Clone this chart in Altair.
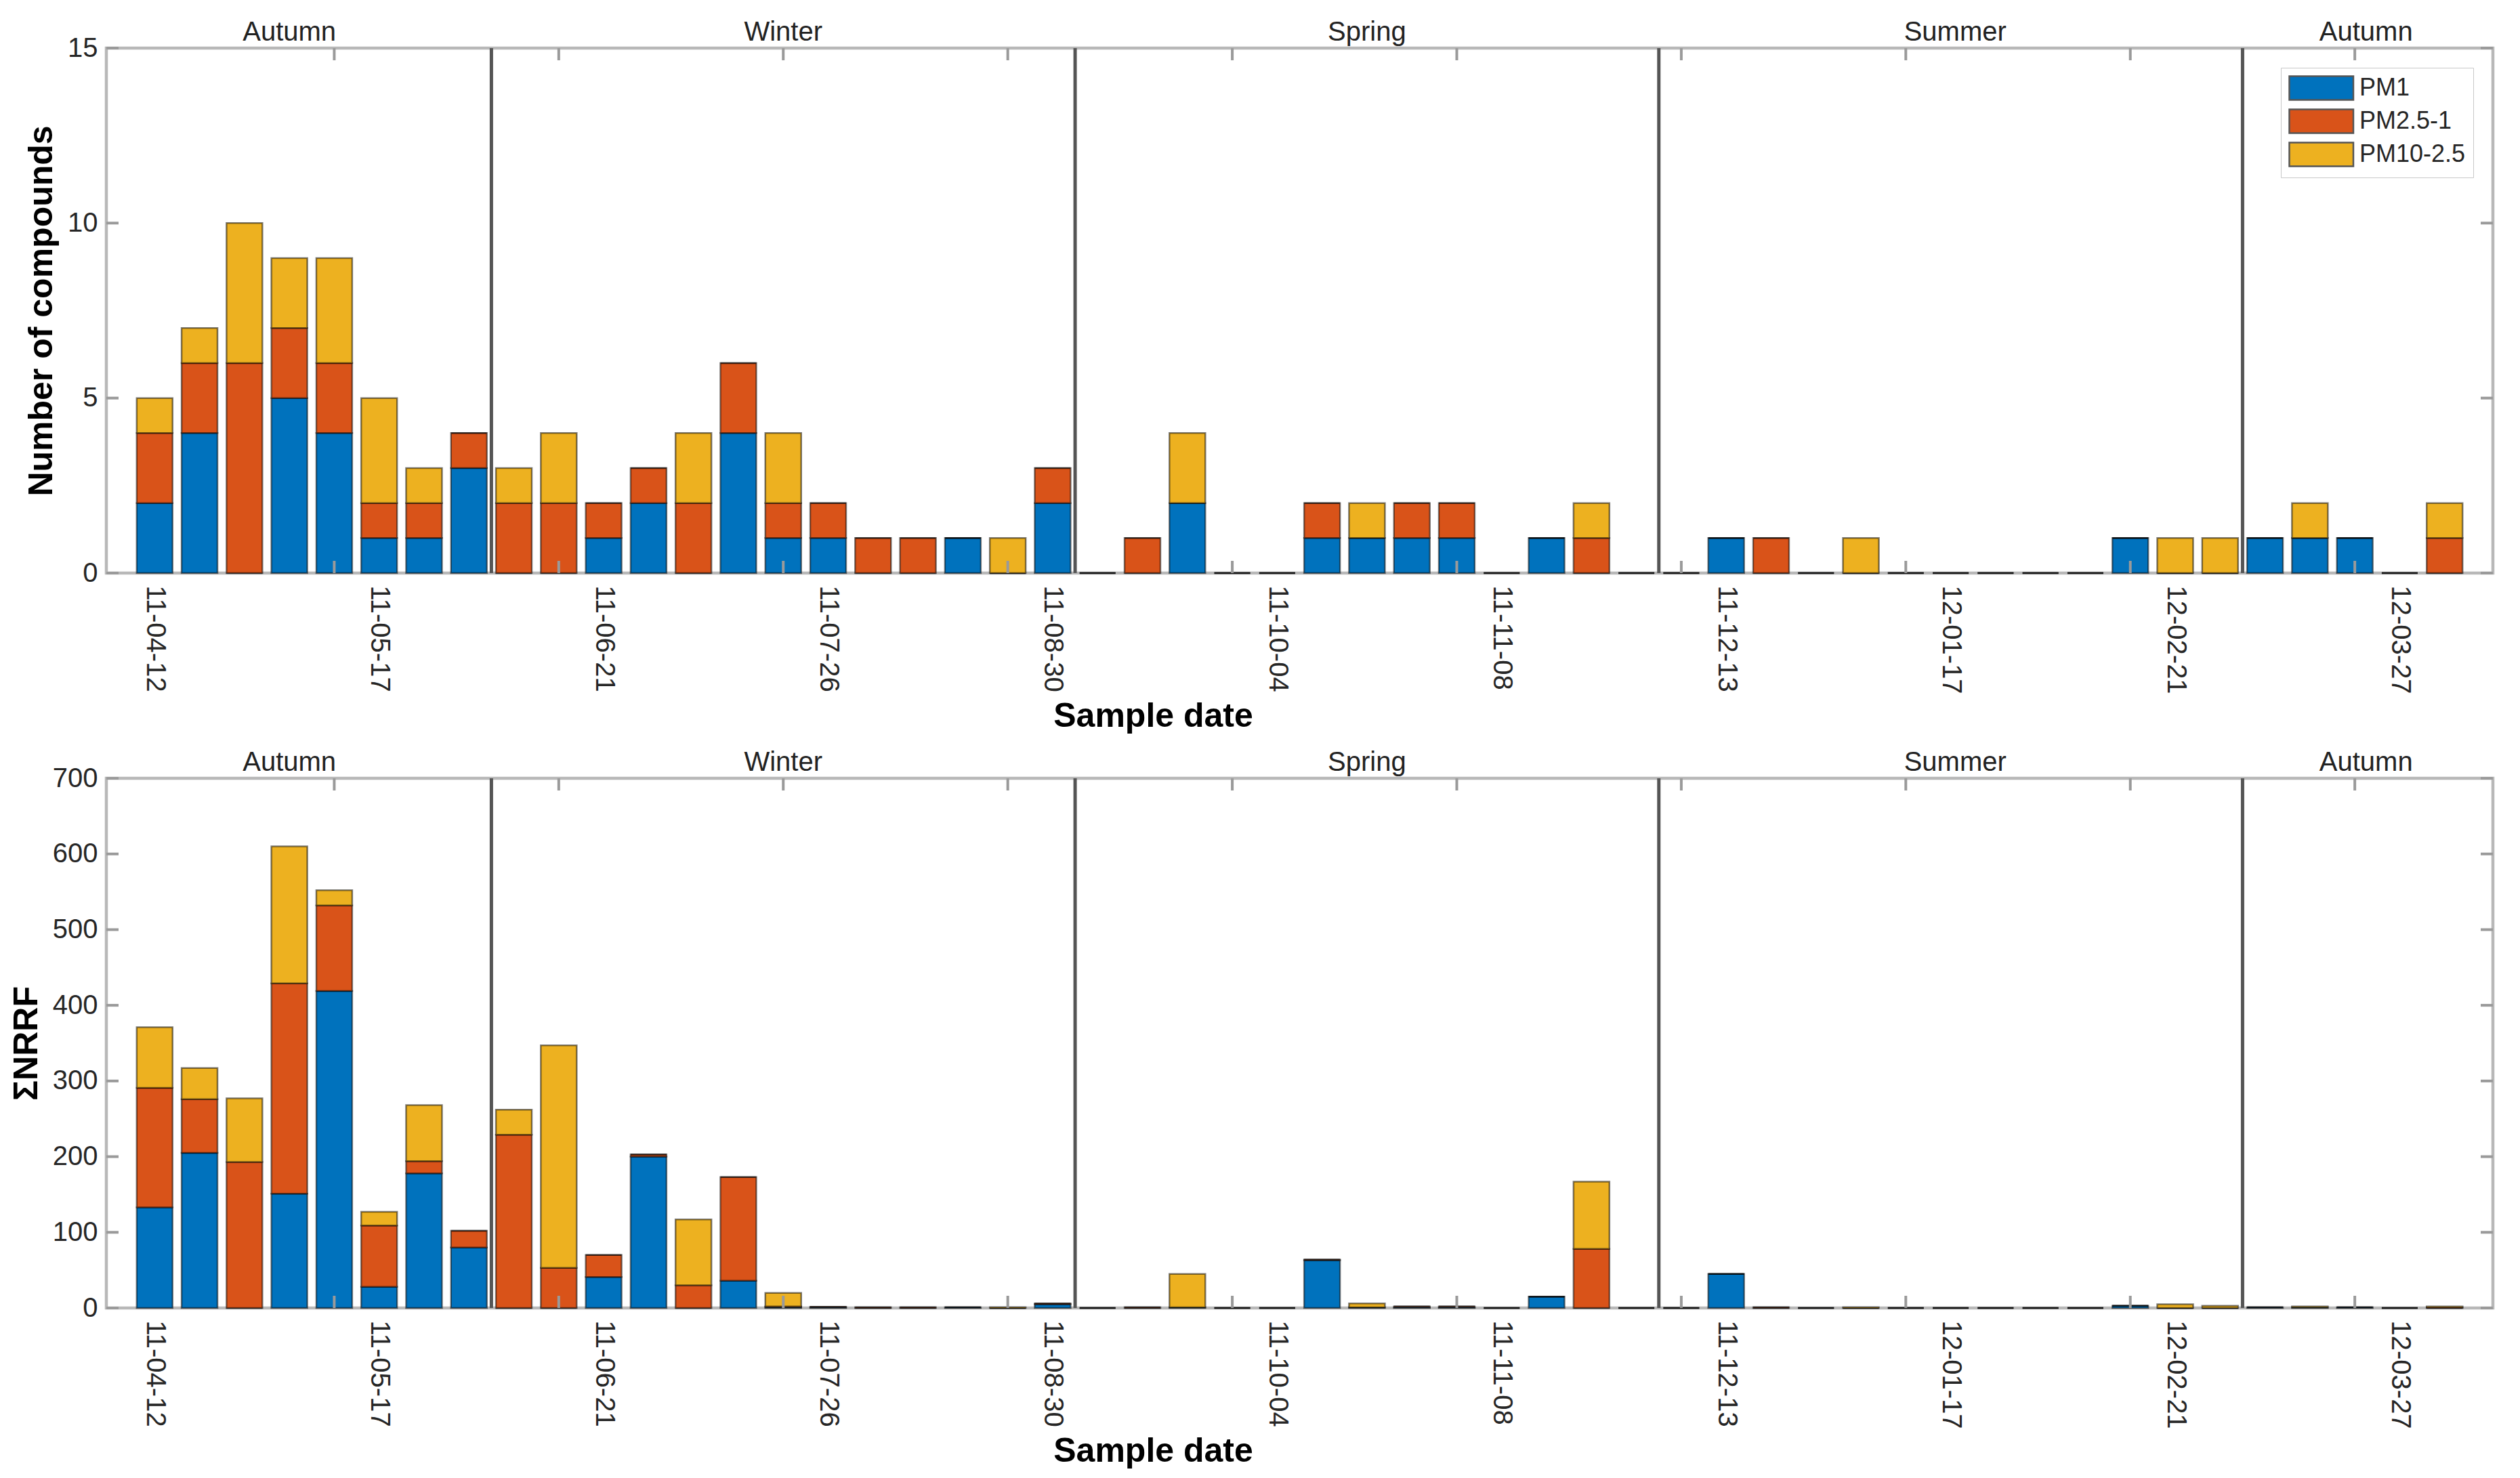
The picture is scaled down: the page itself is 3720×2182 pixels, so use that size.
import altair as alt
import pandas as pd

# ---------------- data ----------------
series = ["PM1", "PM2.5-1", "PM10-2.5"]
colors = ["#0072BD", "#D95319", "#EDB120"]

date_labels = ["11-04-12", "11-05-17", "11-06-21", "11-07-26", "11-08-30", "11-10-04",
               "11-11-08", "11-12-13", "12-01-17", "12-02-21", "12-03-27"]
label_positions = [0, 5, 10, 15, 20, 25, 30, 35, 40, 45, 50]
x_tick_values = [4, 9, 14, 19, 24, 29, 34, 39, 44, 49]

seasons = ["Autumn", "Winter", "Spring", "Summer", "Autumn"]
season_label_at = [3.0, 14.0, 27.0, 40.1, 49.25]
season_edges = [-1, 7.5, 20.5, 33.5, 46.5, 52]

sample_index = list(range(52))

# Number of compounds
pm1_count = [2, 4, 0, 5, 4, 1, 1, 3,
             0, 0, 1, 2, 0, 4, 1, 1, 0, 0, 1, 0, 2,
             0, 0, 2, 0, 0, 1, 1, 1, 1, 0, 1, 0, 0,
             0, 1, 0, 0, 0, 0, 0, 0, 0, 0, 1, 0, 0,
             1, 1, 1, 0, 0]
pm25_count = [2, 2, 6, 2, 2, 1, 1, 1,
              2, 2, 1, 1, 2, 2, 1, 1, 1, 1, 0, 0, 1,
              0, 1, 0, 0, 0, 1, 0, 1, 1, 0, 0, 1, 0,
              0, 0, 1, 0, 0, 0, 0, 0, 0, 0, 0, 0, 0,
              0, 0, 0, 0, 1]
pm10_count = [1, 1, 4, 2, 3, 3, 1, 0,
              1, 2, 0, 0, 2, 0, 2, 0, 0, 0, 0, 1, 0,
              0, 0, 2, 0, 0, 0, 1, 0, 0, 0, 0, 1, 0,
              0, 0, 0, 0, 1, 0, 0, 0, 0, 0, 0, 1, 1,
              0, 1, 0, 0, 1]

# Sum of NRRF
pm1_nrrf = [133, 205, 0, 151, 419, 28, 178, 80,
            0, 0, 41, 200, 0, 36, 1, 1, 0, 0, 1, 0, 5,
            0, 0, 1, 0, 0, 63, 1, 1, 1, 0, 15, 0, 0,
            0, 45, 0, 0, 0, 0, 0, 0, 0, 0, 3, 0, 0,
            1, 1, 1, 0, 0]
pm25_nrrf = [158, 71, 193, 278, 113, 81, 16, 22,
             229, 53, 29, 3, 30, 137, 1, 0.5, 1, 1, 0, 0, 1,
             0, 1, 0, 0, 0, 1, 0, 1, 1, 0, 0, 78, 0,
             0, 0, 1, 0, 0, 0, 0, 0, 0, 0, 0, 0, 0,
             0, 0, 0, 0, 1]
pm10_nrrf = [80, 41, 84, 181, 20, 18, 74, 0,
             33, 294, 0, 0, 87, 0, 18, 0, 0, 0, 0, 1, 0,
             0, 0, 44, 0, 0, 0, 5, 0, 0, 0, 0, 89, 0,
             0, 0, 0, 0, 1, 0, 0, 0, 0, 0, 0, 5, 3,
             0, 1, 0, 0, 1]

# ---------------- style ----------------
FONT = "Liberation Sans"
W = 3523
BAR_W = 53
TICK_LEN = 18
BOX = "#b8b8b8"

xs = alt.Scale(domain=[season_edges[0], season_edges[-1]], nice=False, zero=False)

label_expr = "[" + ",".join("'%s'" % d for d in date_labels) + "][round(datum.value/5)]"


def long_df(a, b, c):
    rows = []
    for i in sample_index:
        for k, vals in enumerate([a, b, c]):
            rows.append({"i": i, "series": series[k], "ord": k, "v": vals[i]})
    return pd.DataFrame(rows)


season_df = pd.DataFrame({"season": seasons, "c": season_label_at})
divider_df = pd.DataFrame({"b": season_edges[1:-1]})
xtick_df = pd.DataFrame({"t": x_tick_values})


def panel(df, ymax, yticks, ytitle, H):
    ys = alt.Scale(domain=[0, ymax], nice=False)
    bars = alt.Chart(df).mark_bar(
        size=BAR_W, stroke="#000000", strokeOpacity=0.5, strokeWidth=2.5
    ).encode(
        x=alt.X("i:Q", scale=xs, axis=alt.Axis(
            values=label_positions, labelExpr=label_expr, labelAngle=90,
            labelPadding=18, labelFlush=False, title="Sample date",
            titleX=1545, titleY=226, titleBaseline="alphabetic", titleAlign="center")),
        y=alt.Y("v:Q", stack="zero", scale=ys, axis=alt.Axis(
            values=yticks, title=ytitle, labelPadding=13, titlePadding=13)),
        color=alt.Color("series:N", scale=alt.Scale(domain=series, range=colors),
                        sort=series,
                        legend=alt.Legend(
                            title=None, orient="top-right", offset=29,
                            symbolType="M-1,-1H4.4V1H-1Z", symbolSize=1225,
                            symbolStrokeColor="#555555", symbolStrokeWidth=2.5,
                            labelFontSize=36, labelOffset=67, padding=11, rowPadding=3,
                            strokeColor="#c8c8c8", fillColor="white", cornerRadius=0)),
        order=alt.Order("ord:Q"),
    )
    dividers = alt.Chart(divider_df).mark_rule(color="#555555", strokeWidth=5).encode(
        x=alt.X("b:Q", scale=xs, axis=None))
    top_ticks = alt.Chart(xtick_df).mark_rule(color="#9a9a9a", strokeWidth=4).encode(
        x=alt.X("t:Q", scale=xs, axis=None), y=alt.value(0), y2=alt.value(TICK_LEN))
    bot_ticks = alt.Chart(xtick_df).mark_rule(color="#9a9a9a", strokeWidth=4).encode(
        x=alt.X("t:Q", scale=xs, axis=None), y=alt.value(H - TICK_LEN), y2=alt.value(H))
    ytick_df = pd.DataFrame({"t": yticks})
    left_ticks = alt.Chart(ytick_df).mark_rule(color="#9a9a9a", strokeWidth=4).encode(
        y=alt.Y("t:Q", scale=ys, axis=None), x=alt.value(0), x2=alt.value(TICK_LEN))
    right_ticks = alt.Chart(ytick_df).mark_rule(color="#9a9a9a", strokeWidth=4).encode(
        y=alt.Y("t:Q", scale=ys, axis=None), x=alt.value(W - TICK_LEN), x2=alt.value(W))
    labels = alt.Chart(season_df).mark_text(
        font=FONT, fontSize=40, color="#222222", baseline="alphabetic", align="center"
    ).encode(x=alt.X("c:Q", scale=xs, axis=None), y=alt.value(-11), text="season:N")
    return alt.layer(bars, dividers, top_ticks, bot_ticks, left_ticks, right_ticks, labels
                     ).resolve_axis(x="independent", y="independent"
                     ).properties(width=W, height=H)


top = panel(long_df(pm1_count, pm25_count, pm10_count), 15, [0, 5, 10, 15],
            "Number of compounds", 775)
bottom = panel(long_df(pm1_nrrf, pm25_nrrf, pm10_nrrf), 700,
               [0, 100, 200, 300, 400, 500, 600, 700], "\u03a3NRRF", 782)

chart = alt.vconcat(top, bottom, spacing=18).properties(
    padding={"left": 4, "top": 17, "right": 5, "bottom": 5}
).configure_view(stroke=BOX, strokeWidth=4.5).configure_axis(
    labelFont=FONT, titleFont=FONT, labelFontSize=40, titleFontSize=50,
    labelColor="#262626", titleColor="#000000", titleFontWeight="bold",
    grid=False, domain=False, ticks=False
).configure_legend(labelFont=FONT, labelColor="#262626")

chart.save("out.html", embed_options={"renderer": "svg", "actions": False})
